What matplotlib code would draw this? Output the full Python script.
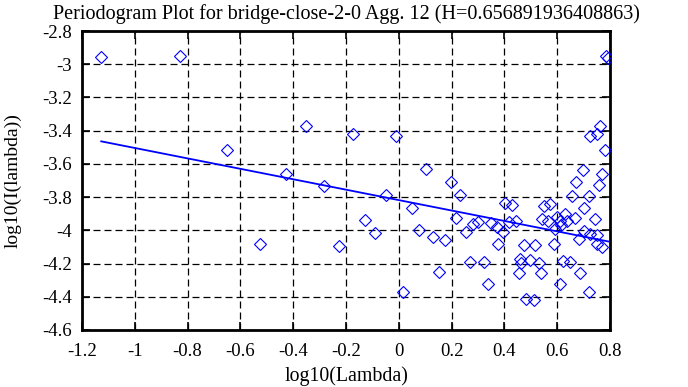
import matplotlib
matplotlib.use("Agg")
import matplotlib.pyplot as plt
import numpy as np

title = "Periodogram Plot for bridge-close-2-0 Agg. 12 (H=0.656891936408863)"
H = 0.656891936408863
intercept = -3.818

log_lambda = [-1.127, -0.827, -0.649, -0.525, -0.429, -0.352, -0.282, -0.225, -0.172, -0.128,
              -0.09, -0.048, -0.011, 0.017, 0.049, 0.078, 0.104, 0.128, 0.153, 0.176,
              0.196, 0.217, 0.233, 0.255, 0.27, 0.28, 0.30, 0.321, 0.336, 0.35,
              0.372, 0.376, 0.395, 0.401, 0.43, 0.416, 0.445, 0.473, 0.517, 0.464,
              0.496, 0.53, 0.454, 0.539, 0.482, 0.511, 0.549, 0.574, 0.543, 0.565,
              0.612, 0.637, 0.593, 0.587, 0.622, 0.647, 0.612, 0.685, 0.72, 0.656,
              0.672, 0.698, 0.72, 0.70, 0.745, 0.669, 0.70, 0.681, 0.726, 0.751,
              0.749, 0.77, 0.759, 0.77, 0.782, 0.726, 0.749, 0.764, 0.784, 0.793,
              0.60, 0.63, 0.458, 0.615]
log_I = [-2.958, -2.948, -3.518, -4.084, -3.662, -3.374, -3.734, -4.094, -3.418, -3.94,
         -4.018, -3.79, -3.43, -4.37, -3.864, -4.0, -3.63, -4.04, -4.25, -4.06,
         -3.71, -3.924, -3.79, -4.01, -4.19, -3.96, -3.95, -4.19, -4.324, -3.955,
         -3.98, -4.08, -4.01, -3.834, -3.85, -3.95, -3.944, -4.09, -4.09, -4.194,
         -4.18, -4.194, -4.258, -4.254, -4.414, -4.42, -3.854, -3.84, -3.934, -3.944,
         -3.944, -3.944, -3.994, -4.084, -4.184, -4.19, -4.324, -4.254, -4.37, -3.794,
         -3.71, -3.634, -3.794, -3.864, -3.934, -3.924, -4.004, -4.054, -4.024, -4.03,
         -4.084, -4.098, -3.73, -3.658, -3.518, -3.43, -3.418, -3.37, -2.95, -2.962,
         -3.92, -3.90, -4.174, -3.97]

xticks = [-1.2, -1, -0.8, -0.6, -0.4, -0.2, 0, 0.2, 0.4, 0.6, 0.8]
yticks = [-2.8, -3, -3.2, -3.4, -3.6, -3.8, -4, -4.2, -4.4, -4.6]

plt.rcParams['font.family'] = ['Liberation Serif', 'DejaVu Serif']

fig = plt.figure(figsize=(6.88, 3.87), dpi=100)
ax = fig.add_axes([82/688, 1-330/387, (610-82)/688, (330-31)/387])

ax.plot(log_lambda, log_I, linestyle='none', marker='D', markersize=6.2,
        markerfacecolor='none', markeredgecolor='#0000ff', markeredgewidth=0.8, zorder=3)

slope = 1 - 2 * H
xl = np.array([min(log_lambda), max(log_lambda)])
ax.plot(xl, intercept + slope * xl, color='#0000ff', linewidth=1.3, zorder=4)

ax.set_xlim(-1.2, 0.8)
ax.set_ylim(-4.6, -2.8)
ax.set_xticks(xticks)
ax.set_yticks(yticks)
ax.set_xticklabels([f"{t:g}" for t in xticks])
ax.set_yticklabels([f"{t:g}" for t in yticks])
ax.grid(True, color='black', linestyle=(0, (5.6, 3.2)), linewidth=0.9)
ax.tick_params(direction='in', length=6, width=1.2, top=True, right=True,
               labelsize=13.5, colors='black')
ax.tick_params(axis='x', pad=9)
ax.tick_params(axis='y', pad=7)
for s in ax.spines.values():
    s.set_linewidth(2)
ax.set_title(title, fontsize=14.5, pad=9)
ax.set_xlabel("log10(Lambda)", fontsize=14.3, labelpad=5)
ax.set_ylabel("log10(I(lambda))", fontsize=14, labelpad=15)

fig.savefig("out.png", dpi=100)
